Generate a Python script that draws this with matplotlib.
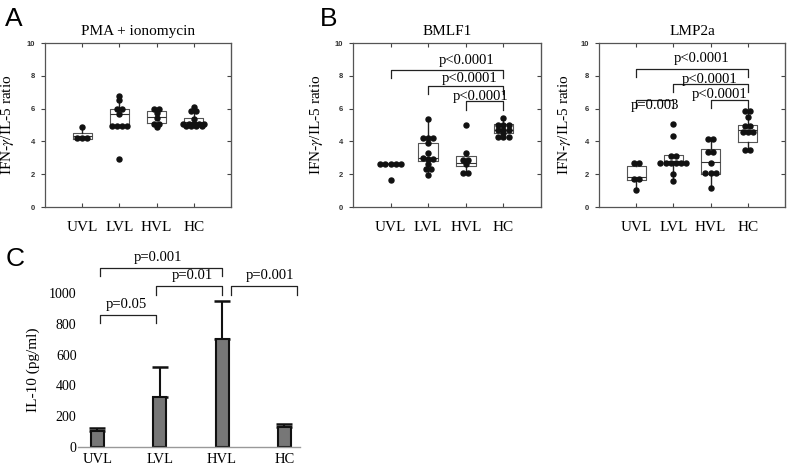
import numpy as np
import matplotlib
matplotlib.use("Agg")
import matplotlib.pyplot as plt

plt.rcParams['font.family'] = ['Liberation Serif', 'DejaVu Serif']
plt.rcParams['mathtext.fontset'] = 'stix'

groups = ['UVL', 'LVL', 'HVL', 'HC']

# --- panel A : PMA + ionomycin (points + box stats: q1, med, q3, whislo, whishi)
pma_pts = [[4.85, 4.2, 4.2, 4.2],
           [6.75, 6.5, 6.0, 6.0, 5.7, 4.92, 4.92, 4.92, 4.92, 2.9],
           [6.0, 6.0, 5.75, 5.4, 5.05, 5.05, 4.85],
           [6.1, 5.85, 5.85, 5.35, 5.05, 5.05, 5.05, 5.05, 5.05, 4.92, 4.92, 4.92, 4.92]]
pma_box = [(4.15, 4.35, 4.5, 4.15, 4.85),
           (4.98, 5.65, 5.96, 4.92, 6.75),
           (5.15, 5.5, 5.83, 4.85, 6.0),
           (4.98, 5.2, 5.45, 4.9, 6.1)]

# --- panel B : BMLF1
bmlf_pts = [[2.65, 2.65, 2.65, 2.65, 2.65, 1.63],
            [5.35, 4.2, 4.2, 4.2, 3.9, 3.3, 3.0, 2.95, 2.95, 2.65, 2.3, 2.3, 1.97],
            [5.02, 3.3, 2.85, 2.85, 2.6, 2.1, 2.1],
            [5.43, 5.02, 5.02, 5.02, 4.72, 4.72, 4.72, 4.5, 4.25, 4.25, 4.25]]
bmlf_box = [(2.6, 2.63, 2.66, 2.6, 2.66),
            (2.83, 2.99, 3.9, 1.97, 5.35),
            (2.52, 2.68, 3.09, 2.1, 3.3),
            (4.51, 4.72, 5.08, 4.2, 5.43)]
bmlf_sig = [(1, 4, 8.35, 'p<0.0001', 3.03, 8.95),
            (2, 4, 7.36, 'p<0.0001', 3.1, 7.85),
            (3, 4, 6.44, 'p<0.0001', 3.38, 6.75)]

# --- panel B : LMP2a
lmp_pts = [[2.66, 2.66, 1.72, 1.72, 1.02],
           [5.05, 4.34, 3.1, 3.1, 2.7, 2.7, 2.7, 2.7, 2.7, 2.7, 2.02, 1.57],
           [4.17, 4.17, 3.35, 3.35, 2.68, 2.09, 2.09, 2.09, 1.17],
           [5.87, 5.87, 5.5, 4.95, 4.95, 4.58, 4.58, 4.58, 3.45, 3.45]]
lmp_box = [(1.62, 1.82, 2.5, 1.02, 2.66),
           (2.64, 2.8, 3.15, 1.57, 3.1),
           (2.02, 2.74, 3.52, 1.17, 4.17),
           (3.99, 4.68, 4.99, 3.4, 5.87)]
lmp_sig = [(1, 4, 8.43, 'p<0.0001', 2.77, 9.05),
           (2, 4, 7.5, 'p<0.0001', 2.98, 7.8),
           (3, 4, 6.54, 'p<0.0001', 3.25, 6.85),
           (1, 2, 6.54, 'p=0.003', 1.5, 6.2)]

# --- panel C : IL-10
il10_mean = [104, 326, 700, 130]
il10_err = [16, 193, 250, 20]
# x1, x2, bracket y, left end, right end, text, text x, text y
il10_sig = [(0.04, 0.94, 860, 806, 806, 'p=0.05', 0.47, 925),
            (0.04, 2.0, 1160, 1110, 1110, 'p=0.001', 0.98, 1230),
            (0.94, 2.0, 1045, 990, 990, 'p=0.01', 1.53, 1115),
            (2.14, 3.2, 1045, 990, 990, 'p=0.001', 2.77, 1115)]


def swarm_x(vals, center, step=0.14):
    # spread dots of equal value side by side
    vals = np.asarray(vals)
    xs = np.zeros(len(vals))
    used = np.zeros(len(vals), bool)
    for i in range(len(vals)):
        if used[i]:
            continue
        same = np.where((np.abs(vals - vals[i]) < 0.08) & ~used)[0]
        n = len(same)
        for k, j in enumerate(same):
            xs[j] = center + (k - (n - 1) / 2) * step
        used[same] = True
    return xs


def box_panel(ax, pts, box, title, sig=None, lab_x=-0.15):
    pos = np.arange(1, 5)
    stats = [dict(q1=b[0], med=b[1], q3=b[2], whislo=b[3], whishi=b[4], fliers=[])
             for b in box]
    ax.bxp(stats, positions=pos, widths=0.52, showfliers=False, showcaps=False,
           boxprops=dict(color='#555555', lw=0.8),
           medianprops=dict(color='#333333', lw=0.8),
           whiskerprops=dict(color='#222222', lw=1.0))
    for p, v in zip(pos, pts):
        ax.plot(swarm_x(v, p), v, 'o', color='#111111', ms=3.6, zorder=4)
    ax.set_xlim(0, 5)
    ax.set_ylim(0, 10)
    ax.set_yticks(range(0, 11, 2))
    ax.set_yticklabels([str(t) for t in range(0, 11, 2)], family='Liberation Sans',
                       fontweight='bold', fontsize=5.5, color='#333333')
    ax.set_xticks(pos)
    ax.set_xticklabels(groups, fontsize=11)
    ax.tick_params(axis='x', direction='in', top=True, length=3, pad=10,
                   color='#444444')
    ax.tick_params(axis='y', direction='out', length=3, pad=4, color='#444444')
    sec = ax.secondary_yaxis('right')
    sec.set_yticks([2, 4, 6, 8])
    sec.tick_params(direction='in', length=3, labelright=False, color='#444444')
    sec.spines['right'].set_color('#555555')
    for s in ax.spines.values():
        s.set_color('#555555')
        s.set_linewidth(0.9)
    ax.set_ylabel('IFN-$\\gamma$/IL-5 ratio', fontsize=11)
    ax.yaxis.set_label_coords(lab_x, 0.5)
    ax.set_title(title, fontsize=11, pad=6)
    if sig:
        for a, b, y, txt, tx, ty in sig:
            ax.plot([a, a, b, b], [y - 0.5, y, y, y - 0.5], color='#222222', lw=0.9)
            ax.text(tx, ty, txt, ha='center', va='center', fontsize=10.5)


fig = plt.figure(figsize=(7.92, 4.71), dpi=100, facecolor='white')

axA = fig.add_axes((0.0568, 0.5605, 0.2348, 0.3482))
box_panel(axA, pma_pts, pma_box, 'PMA + ionomycin', lab_x=-0.156)

axB1 = fig.add_axes((0.4457, 0.5605, 0.2374, 0.3482))
box_panel(axB1, bmlf_pts, bmlf_box, 'BMLF1', bmlf_sig, lab_x=-0.149)

axB2 = fig.add_axes((0.7563, 0.5605, 0.2348, 0.3482))
box_panel(axB2, lmp_pts, lmp_box, 'LMP2a', lmp_sig, lab_x=-0.14)

axC = fig.add_axes((0.0985, 0.0510, 0.2803, 0.3270))
xc = np.arange(len(groups))
axC.bar(xc, il10_mean, width=0.21, color='#777777', edgecolor='#111111', lw=1.5,
        zorder=2)
axC.errorbar(xc, il10_mean, yerr=[np.zeros(4), il10_err], fmt='none',
             ecolor='#111111', elinewidth=1.5, capsize=5.5, capthick=1.8, zorder=1)
axC.set_xlim(-0.31, 3.25)
axC.set_ylim(0, 1000)
axC.set_yticks(range(0, 1001, 200))
axC.tick_params(axis='y', length=0, labelsize=10, pad=1)
axC.set_xticks(xc)
axC.set_xticklabels(groups, fontsize=10.5)
axC.tick_params(axis='x', length=0, pad=4)
for s in ['left', 'right', 'top']:
    axC.spines[s].set_visible(False)
axC.spines['bottom'].set_color('#999999')
axC.spines['bottom'].set_linewidth(1.0)
axC.set_ylabel('IL-10 (pg/ml)', fontsize=11)
axC.yaxis.set_label_coords(-0.17, 0.5)
for a, b, y, y1, y2, txt, tx, ty in il10_sig:
    axC.plot([a, a, b, b], [y1, y, y, y2], color='#222222', lw=0.9, clip_on=False)
    axC.text(tx, ty, txt, ha='center', va='center', fontsize=10.5, clip_on=False)

fig.text(0.006, 0.985, 'A', family='Liberation Sans', fontsize=19, va='top')
fig.text(0.404, 0.985, 'B', family='Liberation Sans', fontsize=19, va='top')
fig.text(0.007, 0.475, 'C', family='Liberation Sans', fontsize=19, va='top')

fig.savefig('out.png', dpi=100)
